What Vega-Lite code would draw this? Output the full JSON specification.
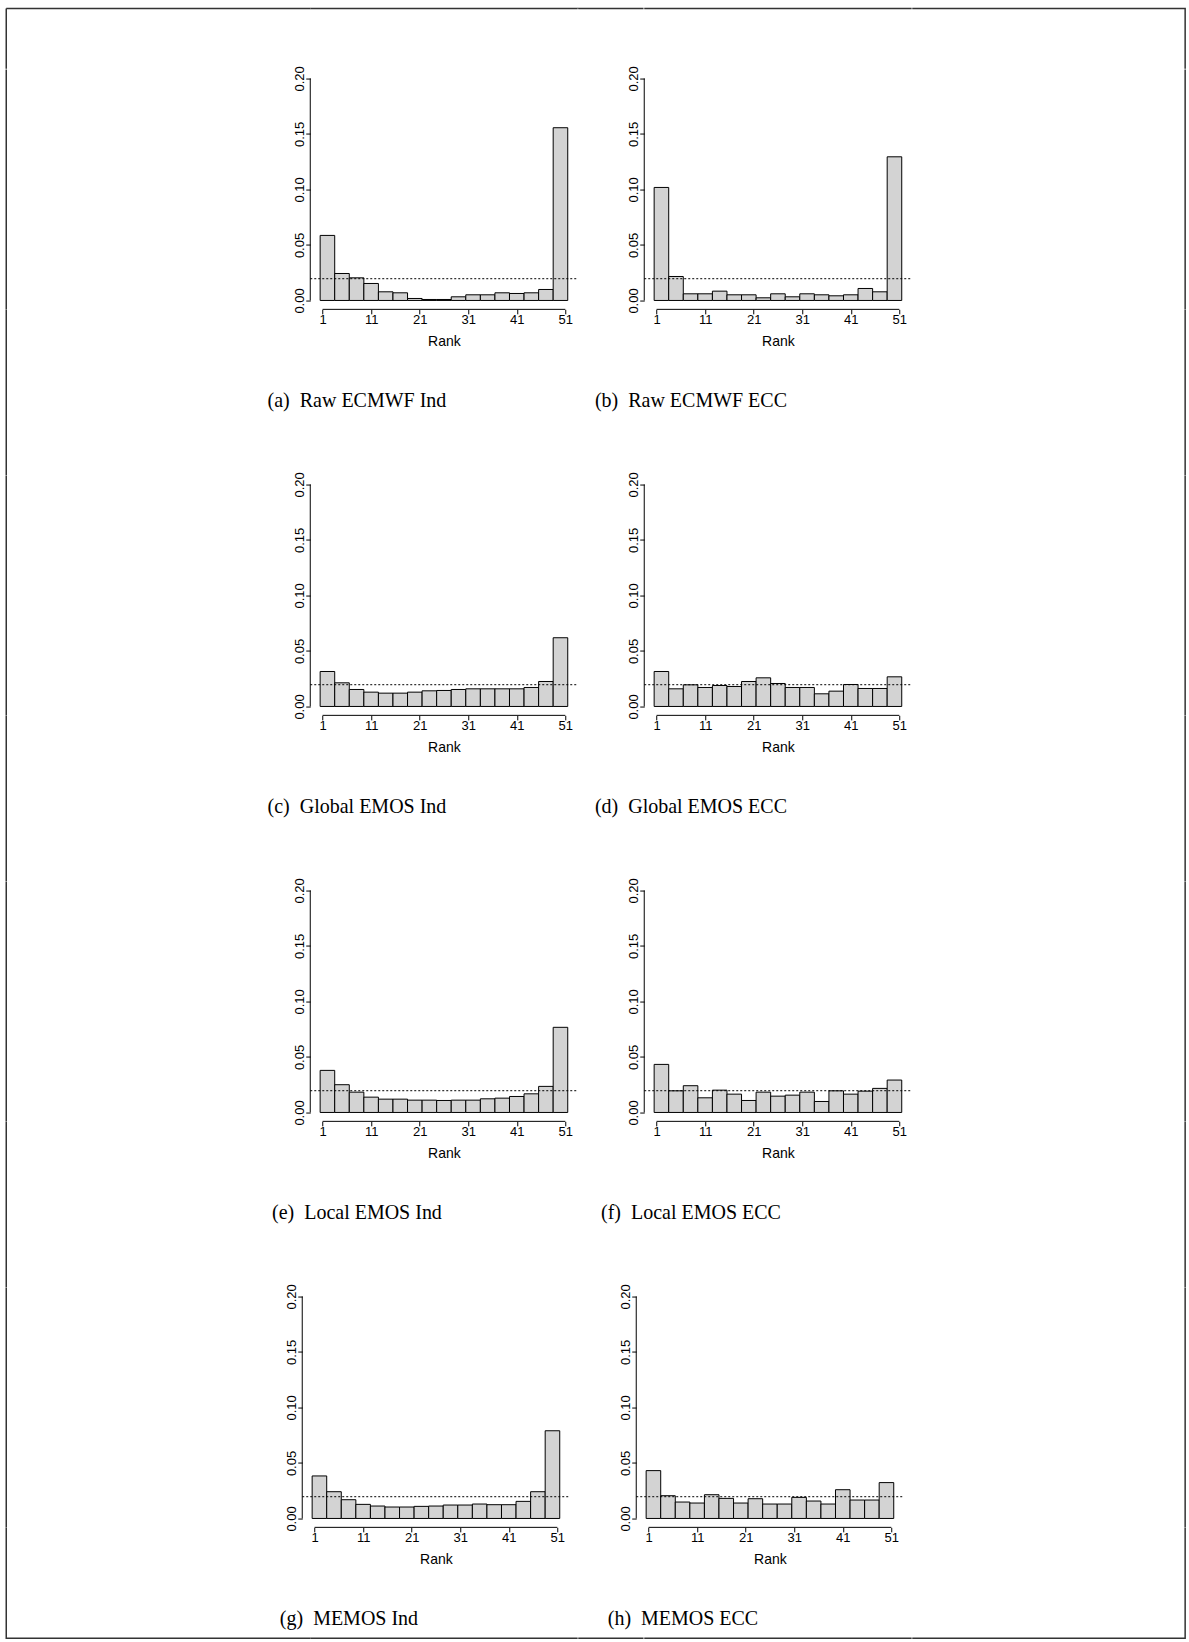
{
  "$schema": "https://vega.github.io/schema/vega-lite/v6.json",
  "background": "white",
  "padding": {"left": 5.25, "top": 7.55, "right": 0, "bottom": 0},
  "bounds": "flush",
  "align": "each",
  "spacing": 0,
  "columns": 5,
  "config": {
    "view": {"stroke": null},
    "font": "Liberation Sans",
    "axis": {
      "domain": false, "grid": false, "ticks": true,
      "tickColor": "#000", "tickSize": 4.5, "tickWidth": 1,
      "labelColor": "#000", "labelFont": "Liberation Sans", "labelFontSize": 13,
      "titleColor": "#000", "titleFont": "Liberation Sans", "titleFontSize": 14, "titleFontWeight": "normal",
      "labelOverlap": false, "labelFlush": false
    },
    "axisX": {"labelPadding": 0, "titlePadding": 7.5},
    "axisY": {"labelAngle": 270, "labelAlign": "center", "labelBaseline": "alphabetic", "labelPadding": 2},
    "title": {
      "orient": "bottom", "anchor": "middle", "font": "Liberation Serif", "fontSize": 20,
      "fontWeight": "normal", "color": "#000", "offset": 43, "dx": -87
    }
  },
  "datasets": {
    "ranks": [
      {"panel":"a","lo":0.5,"hi":3.5,"freq":0.0586},{"panel":"a","lo":3.5,"hi":6.5,"freq":0.0243},{"panel":"a","lo":6.5,"hi":9.5,"freq":0.0204},{"panel":"a","lo":9.5,"hi":12.5,"freq":0.0153},{"panel":"a","lo":12.5,"hi":15.5,"freq":0.0078},{"panel":"a","lo":15.5,"hi":18.5,"freq":0.0069},{"panel":"a","lo":18.5,"hi":21.5,"freq":0.0018},{"panel":"a","lo":21.5,"hi":24.5,"freq":0.0009},{"panel":"a","lo":24.5,"hi":27.5,"freq":0.0009},{"panel":"a","lo":27.5,"hi":30.5,"freq":0.0033},{"panel":"a","lo":30.5,"hi":33.5,"freq":0.0051},{"panel":"a","lo":33.5,"hi":36.5,"freq":0.0051},{"panel":"a","lo":36.5,"hi":39.5,"freq":0.0069},{"panel":"a","lo":39.5,"hi":42.5,"freq":0.0063},{"panel":"a","lo":42.5,"hi":45.5,"freq":0.0069},{"panel":"a","lo":45.5,"hi":48.5,"freq":0.0099},{"panel":"a","lo":48.5,"hi":51.5,"freq":0.1556},
      {"panel":"b","lo":0.5,"hi":3.5,"freq":0.1018},{"panel":"b","lo":3.5,"hi":6.5,"freq":0.0216},{"panel":"b","lo":6.5,"hi":9.5,"freq":0.0060},{"panel":"b","lo":9.5,"hi":12.5,"freq":0.0060},{"panel":"b","lo":12.5,"hi":15.5,"freq":0.0084},{"panel":"b","lo":15.5,"hi":18.5,"freq":0.0051},{"panel":"b","lo":18.5,"hi":21.5,"freq":0.0051},{"panel":"b","lo":21.5,"hi":24.5,"freq":0.0024},{"panel":"b","lo":24.5,"hi":27.5,"freq":0.0060},{"panel":"b","lo":27.5,"hi":30.5,"freq":0.0033},{"panel":"b","lo":30.5,"hi":33.5,"freq":0.0060},{"panel":"b","lo":33.5,"hi":36.5,"freq":0.0051},{"panel":"b","lo":36.5,"hi":39.5,"freq":0.0042},{"panel":"b","lo":39.5,"hi":42.5,"freq":0.0051},{"panel":"b","lo":42.5,"hi":45.5,"freq":0.0108},{"panel":"b","lo":45.5,"hi":48.5,"freq":0.0078},{"panel":"b","lo":48.5,"hi":51.5,"freq":0.1294},
      {"panel":"c","lo":0.5,"hi":3.5,"freq":0.0315},{"panel":"c","lo":3.5,"hi":6.5,"freq":0.0213},{"panel":"c","lo":6.5,"hi":9.5,"freq":0.0153},{"panel":"c","lo":9.5,"hi":12.5,"freq":0.0129},{"panel":"c","lo":12.5,"hi":15.5,"freq":0.0120},{"panel":"c","lo":15.5,"hi":18.5,"freq":0.0120},{"panel":"c","lo":18.5,"hi":21.5,"freq":0.0129},{"panel":"c","lo":21.5,"hi":24.5,"freq":0.0141},{"panel":"c","lo":24.5,"hi":27.5,"freq":0.0144},{"panel":"c","lo":27.5,"hi":30.5,"freq":0.0153},{"panel":"c","lo":30.5,"hi":33.5,"freq":0.0159},{"panel":"c","lo":33.5,"hi":36.5,"freq":0.0159},{"panel":"c","lo":36.5,"hi":39.5,"freq":0.0159},{"panel":"c","lo":39.5,"hi":42.5,"freq":0.0159},{"panel":"c","lo":42.5,"hi":45.5,"freq":0.0171},{"panel":"c","lo":45.5,"hi":48.5,"freq":0.0225},{"panel":"c","lo":48.5,"hi":51.5,"freq":0.0619},
      {"panel":"d","lo":0.5,"hi":3.5,"freq":0.0315},{"panel":"d","lo":3.5,"hi":6.5,"freq":0.0159},{"panel":"d","lo":6.5,"hi":9.5,"freq":0.0195},{"panel":"d","lo":9.5,"hi":12.5,"freq":0.0171},{"panel":"d","lo":12.5,"hi":15.5,"freq":0.0189},{"panel":"d","lo":15.5,"hi":18.5,"freq":0.0180},{"panel":"d","lo":18.5,"hi":21.5,"freq":0.0225},{"panel":"d","lo":21.5,"hi":24.5,"freq":0.0258},{"panel":"d","lo":24.5,"hi":27.5,"freq":0.0207},{"panel":"d","lo":27.5,"hi":30.5,"freq":0.0171},{"panel":"d","lo":30.5,"hi":33.5,"freq":0.0171},{"panel":"d","lo":33.5,"hi":36.5,"freq":0.0114},{"panel":"d","lo":36.5,"hi":39.5,"freq":0.0138},{"panel":"d","lo":39.5,"hi":42.5,"freq":0.0198},{"panel":"d","lo":42.5,"hi":45.5,"freq":0.0162},{"panel":"d","lo":45.5,"hi":48.5,"freq":0.0162},{"panel":"d","lo":48.5,"hi":51.5,"freq":0.0267},
      {"panel":"e","lo":0.5,"hi":3.5,"freq":0.0379},{"panel":"e","lo":3.5,"hi":6.5,"freq":0.0250},{"panel":"e","lo":6.5,"hi":9.5,"freq":0.0183},{"panel":"e","lo":9.5,"hi":12.5,"freq":0.0138},{"panel":"e","lo":12.5,"hi":15.5,"freq":0.0120},{"panel":"e","lo":15.5,"hi":18.5,"freq":0.0120},{"panel":"e","lo":18.5,"hi":21.5,"freq":0.0111},{"panel":"e","lo":21.5,"hi":24.5,"freq":0.0111},{"panel":"e","lo":24.5,"hi":27.5,"freq":0.0108},{"panel":"e","lo":27.5,"hi":30.5,"freq":0.0111},{"panel":"e","lo":30.5,"hi":33.5,"freq":0.0111},{"panel":"e","lo":33.5,"hi":36.5,"freq":0.0123},{"panel":"e","lo":36.5,"hi":39.5,"freq":0.0129},{"panel":"e","lo":39.5,"hi":42.5,"freq":0.0144},{"panel":"e","lo":42.5,"hi":45.5,"freq":0.0168},{"panel":"e","lo":45.5,"hi":48.5,"freq":0.0235},{"panel":"e","lo":48.5,"hi":51.5,"freq":0.0767},
      {"panel":"f","lo":0.5,"hi":3.5,"freq":0.0433},{"panel":"f","lo":3.5,"hi":6.5,"freq":0.0195},{"panel":"f","lo":6.5,"hi":9.5,"freq":0.0241},{"panel":"f","lo":9.5,"hi":12.5,"freq":0.0132},{"panel":"f","lo":12.5,"hi":15.5,"freq":0.0201},{"panel":"f","lo":15.5,"hi":18.5,"freq":0.0165},{"panel":"f","lo":18.5,"hi":21.5,"freq":0.0108},{"panel":"f","lo":21.5,"hi":24.5,"freq":0.0183},{"panel":"f","lo":24.5,"hi":27.5,"freq":0.0147},{"panel":"f","lo":27.5,"hi":30.5,"freq":0.0156},{"panel":"f","lo":30.5,"hi":33.5,"freq":0.0183},{"panel":"f","lo":33.5,"hi":36.5,"freq":0.0099},{"panel":"f","lo":36.5,"hi":39.5,"freq":0.0195},{"panel":"f","lo":39.5,"hi":42.5,"freq":0.0165},{"panel":"f","lo":42.5,"hi":45.5,"freq":0.0192},{"panel":"f","lo":45.5,"hi":48.5,"freq":0.0217},{"panel":"f","lo":48.5,"hi":51.5,"freq":0.0292},
      {"panel":"g","lo":0.5,"hi":3.5,"freq":0.0383},{"panel":"g","lo":3.5,"hi":6.5,"freq":0.0241},{"panel":"g","lo":6.5,"hi":9.5,"freq":0.0169},{"panel":"g","lo":9.5,"hi":12.5,"freq":0.0127},{"panel":"g","lo":12.5,"hi":15.5,"freq":0.0112},{"panel":"g","lo":15.5,"hi":18.5,"freq":0.0103},{"panel":"g","lo":18.5,"hi":21.5,"freq":0.0103},{"panel":"g","lo":21.5,"hi":24.5,"freq":0.0109},{"panel":"g","lo":24.5,"hi":27.5,"freq":0.0112},{"panel":"g","lo":27.5,"hi":30.5,"freq":0.0121},{"panel":"g","lo":30.5,"hi":33.5,"freq":0.0121},{"panel":"g","lo":33.5,"hi":36.5,"freq":0.0130},{"panel":"g","lo":36.5,"hi":39.5,"freq":0.0124},{"panel":"g","lo":39.5,"hi":42.5,"freq":0.0124},{"panel":"g","lo":42.5,"hi":45.5,"freq":0.0154},{"panel":"g","lo":45.5,"hi":48.5,"freq":0.0241},{"panel":"g","lo":48.5,"hi":51.5,"freq":0.0790},
      {"panel":"h","lo":0.5,"hi":3.5,"freq":0.0431},{"panel":"h","lo":3.5,"hi":6.5,"freq":0.0205},{"panel":"h","lo":6.5,"hi":9.5,"freq":0.0148},{"panel":"h","lo":9.5,"hi":12.5,"freq":0.0139},{"panel":"h","lo":12.5,"hi":15.5,"freq":0.0214},{"panel":"h","lo":15.5,"hi":18.5,"freq":0.0181},{"panel":"h","lo":18.5,"hi":21.5,"freq":0.0139},{"panel":"h","lo":21.5,"hi":24.5,"freq":0.0178},{"panel":"h","lo":24.5,"hi":27.5,"freq":0.0130},{"panel":"h","lo":27.5,"hi":30.5,"freq":0.0130},{"panel":"h","lo":30.5,"hi":33.5,"freq":0.0190},{"panel":"h","lo":33.5,"hi":36.5,"freq":0.0157},{"panel":"h","lo":36.5,"hi":39.5,"freq":0.0130},{"panel":"h","lo":39.5,"hi":42.5,"freq":0.0259},{"panel":"h","lo":42.5,"hi":45.5,"freq":0.0166},{"panel":"h","lo":45.5,"hi":48.5,"freq":0.0166},{"panel":"h","lo":48.5,"hi":51.5,"freq":0.0323}
    ]
  },
  "concat": [
    {"width": 304, "height": 60.1, "data": {"values": []}, "mark": "point", "view": {"stroke": "#333", "strokeWidth": 1.5, "strokeDash": [304, 364.1, 60.1, 0]}},
    {"width": 267.4, "height": 60.1, "data": {"values": []}, "mark": "point", "view": {"stroke": "#333", "strokeWidth": 1.5, "strokeDash": [267.4, 387.6]}},
    {"width": 65.3, "height": 60.1, "data": {"values": []}, "mark": "point", "view": {"stroke": "#333", "strokeWidth": 1.5, "strokeDash": [65.3, 185.5]}},
    {"width": 267.4, "height": 60.1, "data": {"values": []}, "mark": "point", "view": {"stroke": "#333", "strokeWidth": 1.5, "strokeDash": [267.4, 387.6]}},
    {"width": 272.9, "height": 60.1, "data": {"values": []}, "mark": "point", "view": {"stroke": "#333", "strokeWidth": 1.5, "strokeDash": [333, 333]}},

    {"width": 304, "height": 239.8, "data": {"values": []}, "mark": "point", "view": {"stroke": "#333", "strokeWidth": 1.5, "strokeDash": [0, 847.8, 239.8, 0]}},
    {
      "width": 267.4, "height": 239.8, "title": "(a)\u2002Raw ECMWF Ind",
      "layer": [
        {"data": {"name": "ranks"}, "transform": [{"filter": "datum.panel === 'a'"}],
         "mark": {"type": "rect", "fill": "#d3d3d3", "stroke": "#000", "strokeWidth": 1},
         "encoding": {
           "x": {"field": "lo", "type": "quantitative", "scale": {"domain": [-1.54, 53.54], "nice": false, "zero": false}, "axis": {"values": [1, 11, 21, 31, 41, 51], "title": "Rank"}},
           "x2": {"field": "hi"},
           "y": {"field": "freq", "type": "quantitative", "scale": {"domain": [-0.008, 0.208], "nice": false, "zero": false}, "axis": {"values": [0, 0.05, 0.1, 0.15, 0.2], "format": ".2f", "title": null}},
           "y2": {"datum": 0}}},
        {"data": {"values": [{}]}, "mark": {"type": "rule", "color": "#000", "strokeWidth": 1, "strokeDash": [2, 2]}, "encoding": {"x": {"datum": -1.54}, "x2": {"datum": 53.54}, "y": {"datum": 0.0196}}},
        {"data": {"values": [{}]}, "mark": {"type": "rule", "color": "#000", "strokeWidth": 1}, "encoding": {"x": {"datum": 1}, "x2": {"datum": 51}, "y": {"datum": -0.008}}},
        {"data": {"values": [{}]}, "mark": {"type": "rule", "color": "#000", "strokeWidth": 1}, "encoding": {"y": {"datum": 0}, "y2": {"datum": 0.2}, "x": {"datum": -1.54}}}
      ]
    },
    {"width": 1, "height": 1, "data": {"values": []}, "mark": "point"},
    {
      "width": 267.4, "height": 239.8, "title": "(b)\u2002Raw ECMWF ECC",
      "layer": [
        {"data": {"name": "ranks"}, "transform": [{"filter": "datum.panel === 'b'"}],
         "mark": {"type": "rect", "fill": "#d3d3d3", "stroke": "#000", "strokeWidth": 1},
         "encoding": {
           "x": {"field": "lo", "type": "quantitative", "scale": {"domain": [-1.54, 53.54], "nice": false, "zero": false}, "axis": {"values": [1, 11, 21, 31, 41, 51], "title": "Rank"}},
           "x2": {"field": "hi"},
           "y": {"field": "freq", "type": "quantitative", "scale": {"domain": [-0.008, 0.208], "nice": false, "zero": false}, "axis": {"values": [0, 0.05, 0.1, 0.15, 0.2], "format": ".2f", "title": null}},
           "y2": {"datum": 0}}},
        {"data": {"values": [{}]}, "mark": {"type": "rule", "color": "#000", "strokeWidth": 1, "strokeDash": [2, 2]}, "encoding": {"x": {"datum": -1.54}, "x2": {"datum": 53.54}, "y": {"datum": 0.0196}}},
        {"data": {"values": [{}]}, "mark": {"type": "rule", "color": "#000", "strokeWidth": 1}, "encoding": {"x": {"datum": 1}, "x2": {"datum": 51}, "y": {"datum": -0.008}}},
        {"data": {"values": [{}]}, "mark": {"type": "rule", "color": "#000", "strokeWidth": 1}, "encoding": {"y": {"datum": 0}, "y2": {"datum": 0.2}, "x": {"datum": -1.54}}}
      ]
    },
    {"width": 272.9, "height": 239.8, "data": {"values": []}, "mark": "point", "view": {"stroke": "#333", "strokeWidth": 1.5, "strokeDash": [0, 272.9, 239.8, 512.7]}},

    {"width": 304, "height": 165.7, "data": {"values": []}, "mark": "point", "view": {"stroke": "#333", "strokeWidth": 1.5, "strokeDash": [0, 773.7, 165.7, 0]}},
    {"width": 1, "height": 1, "data": {"values": []}, "mark": "point"},
    {"width": 1, "height": 1, "data": {"values": []}, "mark": "point"},
    {"width": 1, "height": 1, "data": {"values": []}, "mark": "point"},
    {"width": 272.9, "height": 165.7, "data": {"values": []}, "mark": "point", "view": {"stroke": "#333", "strokeWidth": 1.5, "strokeDash": [0, 272.9, 165.7, 438.6]}},

    {"width": 304, "height": 239.8, "data": {"values": []}, "mark": "point", "view": {"stroke": "#333", "strokeWidth": 1.5, "strokeDash": [0, 847.8, 239.8, 0]}},
    {
      "width": 267.4, "height": 239.8, "title": "(c)\u2002Global EMOS Ind",
      "layer": [
        {"data": {"name": "ranks"}, "transform": [{"filter": "datum.panel === 'c'"}],
         "mark": {"type": "rect", "fill": "#d3d3d3", "stroke": "#000", "strokeWidth": 1},
         "encoding": {
           "x": {"field": "lo", "type": "quantitative", "scale": {"domain": [-1.54, 53.54], "nice": false, "zero": false}, "axis": {"values": [1, 11, 21, 31, 41, 51], "title": "Rank"}},
           "x2": {"field": "hi"},
           "y": {"field": "freq", "type": "quantitative", "scale": {"domain": [-0.008, 0.208], "nice": false, "zero": false}, "axis": {"values": [0, 0.05, 0.1, 0.15, 0.2], "format": ".2f", "title": null}},
           "y2": {"datum": 0}}},
        {"data": {"values": [{}]}, "mark": {"type": "rule", "color": "#000", "strokeWidth": 1, "strokeDash": [2, 2]}, "encoding": {"x": {"datum": -1.54}, "x2": {"datum": 53.54}, "y": {"datum": 0.0196}}},
        {"data": {"values": [{}]}, "mark": {"type": "rule", "color": "#000", "strokeWidth": 1}, "encoding": {"x": {"datum": 1}, "x2": {"datum": 51}, "y": {"datum": -0.008}}},
        {"data": {"values": [{}]}, "mark": {"type": "rule", "color": "#000", "strokeWidth": 1}, "encoding": {"y": {"datum": 0}, "y2": {"datum": 0.2}, "x": {"datum": -1.54}}}
      ]
    },
    {"width": 1, "height": 1, "data": {"values": []}, "mark": "point"},
    {
      "width": 267.4, "height": 239.8, "title": "(d)\u2002Global EMOS ECC",
      "layer": [
        {"data": {"name": "ranks"}, "transform": [{"filter": "datum.panel === 'd'"}],
         "mark": {"type": "rect", "fill": "#d3d3d3", "stroke": "#000", "strokeWidth": 1},
         "encoding": {
           "x": {"field": "lo", "type": "quantitative", "scale": {"domain": [-1.54, 53.54], "nice": false, "zero": false}, "axis": {"values": [1, 11, 21, 31, 41, 51], "title": "Rank"}},
           "x2": {"field": "hi"},
           "y": {"field": "freq", "type": "quantitative", "scale": {"domain": [-0.008, 0.208], "nice": false, "zero": false}, "axis": {"values": [0, 0.05, 0.1, 0.15, 0.2], "format": ".2f", "title": null}},
           "y2": {"datum": 0}}},
        {"data": {"values": [{}]}, "mark": {"type": "rule", "color": "#000", "strokeWidth": 1, "strokeDash": [2, 2]}, "encoding": {"x": {"datum": -1.54}, "x2": {"datum": 53.54}, "y": {"datum": 0.0196}}},
        {"data": {"values": [{}]}, "mark": {"type": "rule", "color": "#000", "strokeWidth": 1}, "encoding": {"x": {"datum": 1}, "x2": {"datum": 51}, "y": {"datum": -0.008}}},
        {"data": {"values": [{}]}, "mark": {"type": "rule", "color": "#000", "strokeWidth": 1}, "encoding": {"y": {"datum": 0}, "y2": {"datum": 0.2}, "x": {"datum": -1.54}}}
      ]
    },
    {"width": 272.9, "height": 239.8, "data": {"values": []}, "mark": "point", "view": {"stroke": "#333", "strokeWidth": 1.5, "strokeDash": [0, 272.9, 239.8, 512.7]}},

    {"width": 304, "height": 165.7, "data": {"values": []}, "mark": "point", "view": {"stroke": "#333", "strokeWidth": 1.5, "strokeDash": [0, 773.7, 165.7, 0]}},
    {"width": 1, "height": 1, "data": {"values": []}, "mark": "point"},
    {"width": 1, "height": 1, "data": {"values": []}, "mark": "point"},
    {"width": 1, "height": 1, "data": {"values": []}, "mark": "point"},
    {"width": 272.9, "height": 165.7, "data": {"values": []}, "mark": "point", "view": {"stroke": "#333", "strokeWidth": 1.5, "strokeDash": [0, 272.9, 165.7, 438.6]}},

    {"width": 304, "height": 239.8, "data": {"values": []}, "mark": "point", "view": {"stroke": "#333", "strokeWidth": 1.5, "strokeDash": [0, 847.8, 239.8, 0]}},
    {
      "width": 267.4, "height": 239.8, "title": "(e)\u2002Local EMOS Ind",
      "layer": [
        {"data": {"name": "ranks"}, "transform": [{"filter": "datum.panel === 'e'"}],
         "mark": {"type": "rect", "fill": "#d3d3d3", "stroke": "#000", "strokeWidth": 1},
         "encoding": {
           "x": {"field": "lo", "type": "quantitative", "scale": {"domain": [-1.54, 53.54], "nice": false, "zero": false}, "axis": {"values": [1, 11, 21, 31, 41, 51], "title": "Rank"}},
           "x2": {"field": "hi"},
           "y": {"field": "freq", "type": "quantitative", "scale": {"domain": [-0.008, 0.208], "nice": false, "zero": false}, "axis": {"values": [0, 0.05, 0.1, 0.15, 0.2], "format": ".2f", "title": null}},
           "y2": {"datum": 0}}},
        {"data": {"values": [{}]}, "mark": {"type": "rule", "color": "#000", "strokeWidth": 1, "strokeDash": [2, 2]}, "encoding": {"x": {"datum": -1.54}, "x2": {"datum": 53.54}, "y": {"datum": 0.0196}}},
        {"data": {"values": [{}]}, "mark": {"type": "rule", "color": "#000", "strokeWidth": 1}, "encoding": {"x": {"datum": 1}, "x2": {"datum": 51}, "y": {"datum": -0.008}}},
        {"data": {"values": [{}]}, "mark": {"type": "rule", "color": "#000", "strokeWidth": 1}, "encoding": {"y": {"datum": 0}, "y2": {"datum": 0.2}, "x": {"datum": -1.54}}}
      ]
    },
    {"width": 1, "height": 1, "data": {"values": []}, "mark": "point"},
    {
      "width": 267.4, "height": 239.8, "title": "(f)\u2002Local EMOS ECC",
      "layer": [
        {"data": {"name": "ranks"}, "transform": [{"filter": "datum.panel === 'f'"}],
         "mark": {"type": "rect", "fill": "#d3d3d3", "stroke": "#000", "strokeWidth": 1},
         "encoding": {
           "x": {"field": "lo", "type": "quantitative", "scale": {"domain": [-1.54, 53.54], "nice": false, "zero": false}, "axis": {"values": [1, 11, 21, 31, 41, 51], "title": "Rank"}},
           "x2": {"field": "hi"},
           "y": {"field": "freq", "type": "quantitative", "scale": {"domain": [-0.008, 0.208], "nice": false, "zero": false}, "axis": {"values": [0, 0.05, 0.1, 0.15, 0.2], "format": ".2f", "title": null}},
           "y2": {"datum": 0}}},
        {"data": {"values": [{}]}, "mark": {"type": "rule", "color": "#000", "strokeWidth": 1, "strokeDash": [2, 2]}, "encoding": {"x": {"datum": -1.54}, "x2": {"datum": 53.54}, "y": {"datum": 0.0196}}},
        {"data": {"values": [{}]}, "mark": {"type": "rule", "color": "#000", "strokeWidth": 1}, "encoding": {"x": {"datum": 1}, "x2": {"datum": 51}, "y": {"datum": -0.008}}},
        {"data": {"values": [{}]}, "mark": {"type": "rule", "color": "#000", "strokeWidth": 1}, "encoding": {"y": {"datum": 0}, "y2": {"datum": 0.2}, "x": {"datum": -1.54}}}
      ]
    },
    {"width": 272.9, "height": 239.8, "data": {"values": []}, "mark": "point", "view": {"stroke": "#333", "strokeWidth": 1.5, "strokeDash": [0, 272.9, 239.8, 512.7]}},

    {"width": 304, "height": 165.7, "data": {"values": []}, "mark": "point", "view": {"stroke": "#333", "strokeWidth": 1.5, "strokeDash": [0, 773.7, 165.7, 0]}},
    {"width": 1, "height": 1, "data": {"values": []}, "mark": "point"},
    {"width": 1, "height": 1, "data": {"values": []}, "mark": "point"},
    {"width": 1, "height": 1, "data": {"values": []}, "mark": "point"},
    {"width": 272.9, "height": 165.7, "data": {"values": []}, "mark": "point", "view": {"stroke": "#333", "strokeWidth": 1.5, "strokeDash": [0, 272.9, 165.7, 438.6]}},

    {"width": 304, "height": 239.8, "data": {"values": []}, "mark": "point", "view": {"stroke": "#333", "strokeWidth": 1.5, "strokeDash": [0, 847.8, 239.8, 0]}},
    {
      "width": 267.4, "height": 239.8,
      "title": {"text": "(g)\u2002MEMOS Ind", "dx": -95},
      "layer": [
        {"data": {"name": "ranks"}, "transform": [{"filter": "datum.panel === 'g'"}],
         "mark": {"type": "rect", "fill": "#d3d3d3", "stroke": "#000", "strokeWidth": 1},
         "encoding": {
           "x": {"field": "lo", "type": "quantitative", "scale": {"domain": [0.108, 55.188], "nice": false, "zero": false}, "axis": {"values": [1, 11, 21, 31, 41, 51], "title": "Rank", "titleX": 125.7}},
           "x2": {"field": "hi"},
           "y": {"field": "freq", "type": "quantitative", "scale": {"domain": [-0.008, 0.208], "nice": false, "zero": false}, "axis": {"values": [0, 0.05, 0.1, 0.15, 0.2], "format": ".2f", "title": null, "offset": 8}},
           "y2": {"datum": 0}}},
        {"data": {"values": [{}]}, "mark": {"type": "rule", "color": "#000", "strokeWidth": 1, "strokeDash": [2, 2]}, "encoding": {"x": {"datum": -1.54}, "x2": {"datum": 53.54}, "y": {"datum": 0.0196}}},
        {"data": {"values": [{}]}, "mark": {"type": "rule", "color": "#000", "strokeWidth": 1}, "encoding": {"x": {"datum": 1}, "x2": {"datum": 51}, "y": {"datum": -0.008}}},
        {"data": {"values": [{}]}, "mark": {"type": "rule", "color": "#000", "strokeWidth": 1}, "encoding": {"y": {"datum": 0}, "y2": {"datum": 0.2}, "x": {"datum": -1.54}}}
      ]
    },
    {"width": 1, "height": 1, "data": {"values": []}, "mark": "point"},
    {
      "width": 267.4, "height": 239.8,
      "title": {"text": "(h)\u2002MEMOS ECC", "dx": -95},
      "layer": [
        {"data": {"name": "ranks"}, "transform": [{"filter": "datum.panel === 'h'"}],
         "mark": {"type": "rect", "fill": "#d3d3d3", "stroke": "#000", "strokeWidth": 1},
         "encoding": {
           "x": {"field": "lo", "type": "quantitative", "scale": {"domain": [0.108, 55.188], "nice": false, "zero": false}, "axis": {"values": [1, 11, 21, 31, 41, 51], "title": "Rank", "titleX": 125.7}},
           "x2": {"field": "hi"},
           "y": {"field": "freq", "type": "quantitative", "scale": {"domain": [-0.008, 0.208], "nice": false, "zero": false}, "axis": {"values": [0, 0.05, 0.1, 0.15, 0.2], "format": ".2f", "title": null, "offset": 8}},
           "y2": {"datum": 0}}},
        {"data": {"values": [{}]}, "mark": {"type": "rule", "color": "#000", "strokeWidth": 1, "strokeDash": [2, 2]}, "encoding": {"x": {"datum": -1.54}, "x2": {"datum": 53.54}, "y": {"datum": 0.0196}}},
        {"data": {"values": [{}]}, "mark": {"type": "rule", "color": "#000", "strokeWidth": 1}, "encoding": {"x": {"datum": 1}, "x2": {"datum": 51}, "y": {"datum": -0.008}}},
        {"data": {"values": [{}]}, "mark": {"type": "rule", "color": "#000", "strokeWidth": 1}, "encoding": {"y": {"datum": 0}, "y2": {"datum": 0.2}, "x": {"datum": -1.54}}}
      ]
    },
    {"width": 272.9, "height": 239.8, "data": {"values": []}, "mark": "point", "view": {"stroke": "#333", "strokeWidth": 1.5, "strokeDash": [0, 272.9, 239.8, 512.7]}},

    {"width": 304, "height": 110.6, "data": {"values": []}, "mark": "point", "view": {"stroke": "#333", "strokeWidth": 1.5, "strokeDash": [0, 414.6, 414.6, 0]}},
    {"width": 267.4, "height": 110.6, "data": {"values": []}, "mark": "point", "view": {"stroke": "#333", "strokeWidth": 1.5, "strokeDash": [0, 378, 267.4, 110.6]}},
    {"width": 65.3, "height": 110.6, "data": {"values": []}, "mark": "point", "view": {"stroke": "#333", "strokeWidth": 1.5, "strokeDash": [0, 175.9, 65.3, 110.6]}},
    {"width": 267.4, "height": 110.6, "data": {"values": []}, "mark": "point", "view": {"stroke": "#333", "strokeWidth": 1.5, "strokeDash": [0, 378, 267.4, 110.6]}},
    {"width": 272.9, "height": 110.6, "data": {"values": []}, "mark": "point", "view": {"stroke": "#333", "strokeWidth": 1.5, "strokeDash": [0, 272.9, 383.5, 110.6]}}
  ]
}
